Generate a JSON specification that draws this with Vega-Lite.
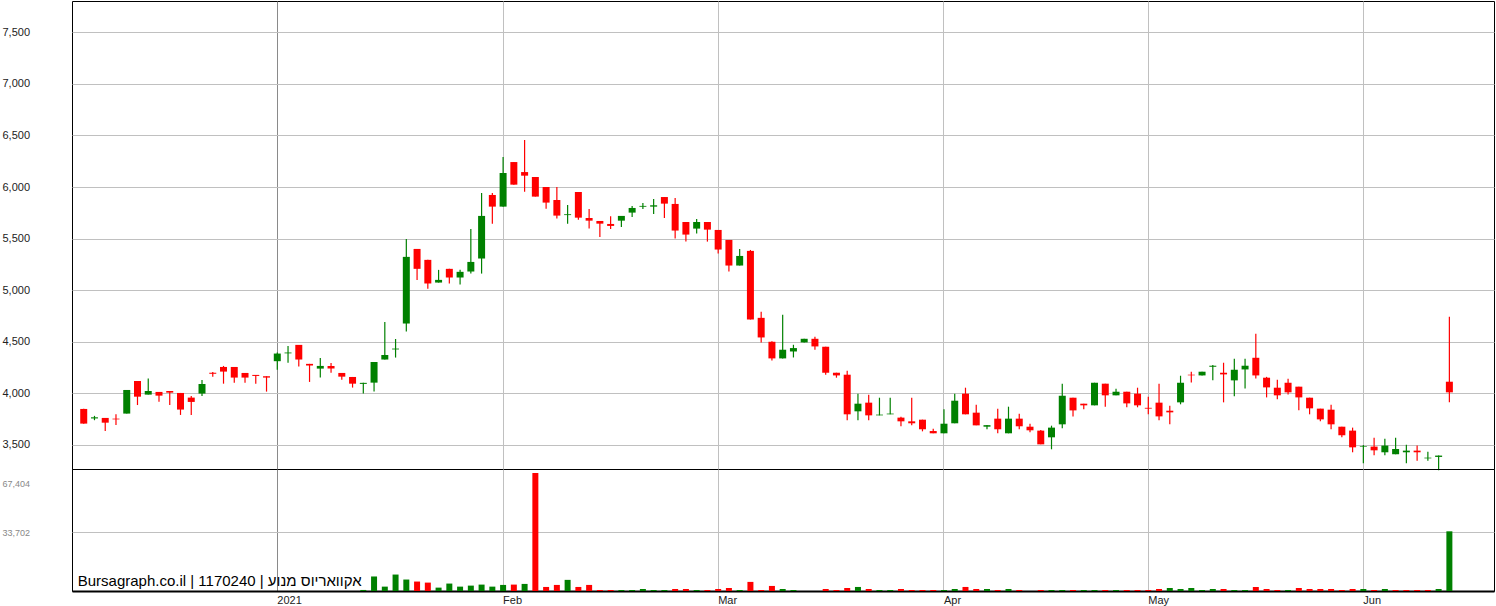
{
"$schema": "https://vega.github.io/schema/vega-lite/v6.json",
"background": "white",
"padding": {"left": 1, "top": 0, "right": 1, "bottom": 0},
"spacing": 0,
"bounds": "flush",
"resolve": {"scale": {"x": "shared"}, "axis": {"x": "independent"}},
"config": {"view": {"stroke": "#000000", "strokeWidth": 1}, "font": "Liberation Sans"},
"data": {"values": [
{"date":"2020-12-08","open":3849,"high":3852,"low":3705,"close":3707},
{"date":"2020-12-09","open":3757,"high":3782,"low":3740,"close":3768},
{"date":"2020-12-10","open":3762,"high":3762,"low":3636,"close":3716},
{"date":"2020-12-13","open":3755,"high":3797,"low":3694,"close":3748},
{"date":"2020-12-14","open":3804,"high":4033,"low":3804,"close":4033},
{"date":"2020-12-15","open":4120,"high":4120,"low":3887,"close":3968},
{"date":"2020-12-16","open":3988,"high":4143,"low":3988,"close":4023},
{"date":"2020-12-17","open":4014,"high":4014,"low":3920,"close":3978},
{"date":"2020-12-20","open":4023,"high":4023,"low":3887,"close":4007},
{"date":"2020-12-21","open":4004,"high":4004,"low":3791,"close":3843},
{"date":"2020-12-22","open":3959,"high":3975,"low":3791,"close":3917},
{"date":"2020-12-23","open":3998,"high":4130,"low":3975,"close":4091},
{"date":"2020-12-24","open":4200,"high":4208,"low":4160,"close":4190},
{"date":"2020-12-27","open":4256,"high":4266,"low":4094,"close":4211},
{"date":"2020-12-28","open":4256,"high":4256,"low":4104,"close":4153},
{"date":"2020-12-29","open":4198,"high":4198,"low":4104,"close":4153},
{"date":"2020-12-30","open":4179,"high":4179,"low":4094,"close":4169},
{"date":"2020-12-31","open":4166,"high":4166,"low":4017,"close":4153},
{"date":"2021-01-03","open":4312,"high":4395,"low":4230,"close":4386},
{"date":"2021-01-04","open":4388,"high":4460,"low":4298,"close":4396},
{"date":"2021-01-05","open":4470,"high":4470,"low":4260,"close":4328},
{"date":"2021-01-06","open":4286,"high":4286,"low":4111,"close":4270},
{"date":"2021-01-07","open":4240,"high":4344,"low":4153,"close":4266},
{"date":"2021-01-10","open":4266,"high":4295,"low":4201,"close":4240},
{"date":"2021-01-11","open":4198,"high":4198,"low":4133,"close":4162},
{"date":"2021-01-12","open":4159,"high":4159,"low":4056,"close":4094},
{"date":"2021-01-13","open":4092,"high":4102,"low":3998,"close":4102,"volume":600},
{"date":"2021-01-14","open":4104,"high":4304,"low":4017,"close":4304,"volume":8300},
{"date":"2021-01-17","open":4328,"high":4692,"low":4328,"close":4372,"volume":2500},
{"date":"2021-01-18","open":4426,"high":4527,"low":4347,"close":4434,"volume":9400},
{"date":"2021-01-19","open":4677,"high":5497,"low":4600,"close":5323,"volume":6550},
{"date":"2021-01-20","open":5400,"high":5400,"low":5100,"close":5207,"volume":5400},
{"date":"2021-01-21","open":5294,"high":5294,"low":5013,"close":5065,"volume":4800},
{"date":"2021-01-24","open":5074,"high":5197,"low":5074,"close":5100,"volume":1930},
{"date":"2021-01-25","open":5207,"high":5207,"low":5065,"close":5123,"volume":4250},
{"date":"2021-01-26","open":5123,"high":5197,"low":5055,"close":5178,"volume":2500},
{"date":"2021-01-27","open":5181,"high":5594,"low":5161,"close":5274,"volume":3080},
{"date":"2021-01-28","open":5307,"high":5942,"low":5161,"close":5720,"volume":3660},
{"date":"2021-01-31","open":5923,"high":5942,"low":5645,"close":5810,"volume":2500},
{"date":"2021-02-01","open":5810,"high":6290,"low":5810,"close":6136,"volume":3470},
{"date":"2021-02-02","open":6242,"high":6242,"low":6023,"close":6023,"volume":3660},
{"date":"2021-02-03","open":6145,"high":6455,"low":5955,"close":6110,"volume":4050},
{"date":"2021-02-04","open":6097,"high":6097,"low":5907,"close":5907,"volume":67404},
{"date":"2021-02-07","open":6000,"high":6000,"low":5790,"close":5849,"volume":2310},
{"date":"2021-02-08","open":5874,"high":6000,"low":5694,"close":5723,"volume":3470},
{"date":"2021-02-09","open":5728,"high":5826,"low":5645,"close":5736,"volume":6360},
{"date":"2021-02-10","open":5952,"high":5952,"low":5684,"close":5703,"volume":2310},
{"date":"2021-02-11","open":5700,"high":5787,"low":5597,"close":5674,"volume":3470},
{"date":"2021-02-14","open":5671,"high":5671,"low":5516,"close":5645,"volume":580},
{"date":"2021-02-15","open":5642,"high":5716,"low":5594,"close":5623,"volume":580},
{"date":"2021-02-16","open":5674,"high":5720,"low":5613,"close":5720,"volume":580},
{"date":"2021-02-17","open":5752,"high":5816,"low":5710,"close":5797,"volume":580},
{"date":"2021-02-18","open":5809,"high":5845,"low":5787,"close":5817,"volume":1160},
{"date":"2021-02-21","open":5810,"high":5884,"low":5739,"close":5823,"volume":580},
{"date":"2021-02-22","open":5903,"high":5903,"low":5700,"close":5839,"volume":580},
{"date":"2021-02-23","open":5836,"high":5894,"low":5500,"close":5578,"volume":1160},
{"date":"2021-02-24","open":5661,"high":5661,"low":5471,"close":5539,"volume":1160},
{"date":"2021-02-25","open":5597,"high":5690,"low":5549,"close":5661,"volume":580},
{"date":"2021-02-28","open":5661,"high":5661,"low":5471,"close":5587,"volume":580},
{"date":"2021-03-01","open":5584,"high":5584,"low":5355,"close":5394,"volume":1160},
{"date":"2021-03-02","open":5487,"high":5487,"low":5181,"close":5239,"volume":1730},
{"date":"2021-03-03","open":5239,"high":5400,"low":5239,"close":5332,"volume":580},
{"date":"2021-03-04","open":5381,"high":5390,"low":4716,"close":4716,"volume":5200},
{"date":"2021-03-07","open":4732,"high":4790,"low":4494,"close":4542,"volume":580},
{"date":"2021-03-08","open":4500,"high":4505,"low":4319,"close":4339,"volume":2890},
{"date":"2021-03-09","open":4339,"high":4761,"low":4339,"close":4423,"volume":1160},
{"date":"2021-03-10","open":4406,"high":4471,"low":4348,"close":4439,"volume":580},
{"date":"2021-03-11","open":4494,"high":4529,"low":4494,"close":4529,"volume":0},
{"date":"2021-03-14","open":4529,"high":4548,"low":4423,"close":4455,"volume":0},
{"date":"2021-03-15","open":4452,"high":4452,"low":4181,"close":4200,"volume":1160},
{"date":"2021-03-16","open":4200,"high":4200,"low":4152,"close":4174,"volume":580},
{"date":"2021-03-17","open":4181,"high":4219,"low":3739,"close":3797,"volume":1730},
{"date":"2021-03-18","open":3826,"high":3997,"low":3739,"close":3900,"volume":2310},
{"date":"2021-03-21","open":3910,"high":3987,"low":3739,"close":3787,"volume":1160},
{"date":"2021-03-22","open":3787,"high":3958,"low":3787,"close":3794,"volume":580},
{"date":"2021-03-24","open":3797,"high":3958,"low":3797,"close":3804,"volume":580},
{"date":"2021-03-25","open":3765,"high":3774,"low":3681,"close":3729,"volume":1160},
{"date":"2021-03-29","open":3729,"high":3958,"low":3690,"close":3710,"volume":580},
{"date":"2021-03-30","open":3745,"high":3745,"low":3632,"close":3652,"volume":580},
{"date":"2021-03-31","open":3635,"high":3658,"low":3613,"close":3613,"volume":580},
{"date":"2021-04-01","open":3613,"high":3845,"low":3613,"close":3706,"volume":580},
{"date":"2021-04-04","open":3710,"high":3997,"low":3710,"close":3929,"volume":1160},
{"date":"2021-04-05","open":3997,"high":4055,"low":3797,"close":3797,"volume":2310},
{"date":"2021-04-06","open":3813,"high":3890,"low":3690,"close":3690,"volume":1160},
{"date":"2021-04-07","open":3677,"high":3694,"low":3652,"close":3692,"volume":1160},
{"date":"2021-04-08","open":3755,"high":3852,"low":3613,"close":3652,"volume":580},
{"date":"2021-04-11","open":3613,"high":3871,"low":3613,"close":3755,"volume":1160},
{"date":"2021-04-12","open":3755,"high":3803,"low":3652,"close":3681,"volume":580},
{"date":"2021-04-13","open":3677,"high":3706,"low":3623,"close":3642,"volume":0},
{"date":"2021-04-18","open":3639,"high":3645,"low":3506,"close":3506,"volume":580},
{"date":"2021-04-19","open":3574,"high":3687,"low":3458,"close":3668,"volume":580},
{"date":"2021-04-20","open":3700,"high":4094,"low":3661,"close":3977,"volume":580},
{"date":"2021-04-21","open":3958,"high":3958,"low":3777,"close":3835,"volume":580},
{"date":"2021-04-22","open":3900,"high":3900,"low":3845,"close":3884,"volume":580},
{"date":"2021-04-25","open":3884,"high":4103,"low":3884,"close":4103,"volume":580},
{"date":"2021-04-26","open":4094,"high":4094,"low":3871,"close":3981,"volume":580},
{"date":"2021-04-27","open":3981,"high":4045,"low":3981,"close":4016,"volume":580},
{"date":"2021-04-28","open":4016,"high":4016,"low":3865,"close":3903,"volume":580},
{"date":"2021-04-29","open":3997,"high":4055,"low":3865,"close":3884,"volume":580},
{"date":"2021-05-02","open":3860,"high":3968,"low":3797,"close":3852,"volume":580},
{"date":"2021-05-03","open":3910,"high":4094,"low":3739,"close":3777,"volume":1160},
{"date":"2021-05-04","open":3832,"high":3881,"low":3700,"close":3816,"volume":1730},
{"date":"2021-05-05","open":3913,"high":4171,"low":3894,"close":4103,"volume":1160},
{"date":"2021-05-06","open":4181,"high":4210,"low":4106,"close":4175,"volume":1730},
{"date":"2021-05-09","open":4174,"high":4210,"low":4174,"close":4210,"volume":580},
{"date":"2021-05-10","open":4258,"high":4274,"low":4126,"close":4268,"volume":1160},
{"date":"2021-05-11","open":4200,"high":4297,"low":3913,"close":4184,"volume":1150},
{"date":"2021-05-12","open":4126,"high":4336,"low":3971,"close":4229,"volume":580},
{"date":"2021-05-13","open":4232,"high":4336,"low":4048,"close":4268,"volume":580},
{"date":"2021-05-18","open":4345,"high":4577,"low":4145,"close":4174,"volume":2300},
{"date":"2021-05-19","open":4152,"high":4160,"low":3961,"close":4058,"volume":1150},
{"date":"2021-05-20","open":4055,"high":4132,"low":3942,"close":3981,"volume":580},
{"date":"2021-05-23","open":4103,"high":4142,"low":3990,"close":4010,"volume":580},
{"date":"2021-05-24","open":4065,"high":4065,"low":3836,"close":3961,"volume":1730},
{"date":"2021-05-25","open":3958,"high":3958,"low":3797,"close":3855,"volume":1150},
{"date":"2021-05-26","open":3852,"high":3852,"low":3729,"close":3748,"volume":1150},
{"date":"2021-05-27","open":3842,"high":3890,"low":3652,"close":3700,"volume":1150},
{"date":"2021-05-30","open":3677,"high":3677,"low":3574,"close":3594,"volume":580},
{"date":"2021-05-31","open":3639,"high":3668,"low":3429,"close":3477,"volume":1150},
{"date":"2021-06-01","open":3484,"high":3500,"low":3323,"close":3490,"volume":1150},
{"date":"2021-06-02","open":3484,"high":3571,"low":3400,"close":3448,"volume":580},
{"date":"2021-06-03","open":3429,"high":3561,"low":3400,"close":3494,"volume":1150},
{"date":"2021-06-06","open":3410,"high":3571,"low":3410,"close":3461,"volume":580},
{"date":"2021-06-07","open":3429,"high":3503,"low":3323,"close":3445,"volume":580},
{"date":"2021-06-08","open":3445,"high":3494,"low":3348,"close":3429,"volume":580},
{"date":"2021-06-09","open":3370,"high":3435,"low":3348,"close":3377,"volume":580},
{"date":"2021-06-10","open":3384,"high":3397,"low":3255,"close":3397,"volume":1150},
{"date":"2021-06-13","open":4113,"high":4742,"low":3913,"close":4010,"volume":34100}
]},
"vconcat": [
{
 "width": 1422,
 "height": 468,
 "encoding": {
  "x": {"field": "date", "type": "ordinal",
   "scale": {"type": "band", "domain": {"unionWith": ["2021-06-14", "2021-06-15", "2021-06-16"]}, "paddingInner": 0, "paddingOuter": 0.62, "align": 0.476},
   "axis": {"title": null, "labels": false, "ticks": false, "tickSize": 0, "domain": false, "grid": true, "bandPosition": 0.5,
    "values": ["2021-01-03","2021-02-01","2021-03-01","2021-04-01","2021-05-02","2021-06-01"],
    "gridColor": {"condition": {"test": "datum.value == '2021-01-03'", "value": "#8a8a8a"}, "value": "#c0c0c0"}, "gridWidth": 1}}
 },
 "layer": [
  {"mark": {"type": "rule", "strokeWidth": 1.2},
   "encoding": {
    "y": {"field": "low", "type": "quantitative",
     "scale": {"domain": [3267, 7803], "nice": false, "zero": false},
     "axis": {"title": null, "values": [3500,4000,4500,5000,5500,6000,6500,7000,7500], "format": ",.0f",
      "labelAlign": "left", "labelPadding": 70, "ticks": false, "tickSize": 0, "domain": false,
      "grid": true, "gridColor": "#c0c0c0", "labelFont": "Liberation Sans", "labelFontSize": 11, "labelColor": "#222222"}},
    "y2": {"field": "high"},
    "color": {"condition": {"test": "datum.close >= datum.open", "value": "#008000"}, "value": "#ff0000"}
   }},
  {"mark": {"type": "bar", "size": 7},
   "encoding": {
    "y": {"field": "open", "type": "quantitative"},
    "y2": {"field": "close"},
    "color": {"condition": {"test": "datum.close >= datum.open", "value": "#008000"}, "value": "#ff0000"}
   }}
 ]
},
{
 "width": 1422,
 "height": 122,
 "encoding": {
  "x": {"field": "date", "type": "ordinal",
   "scale": {"type": "band", "domain": {"unionWith": ["2021-06-14", "2021-06-15", "2021-06-16"]}, "paddingInner": 0, "paddingOuter": 0.62, "align": 0.476},
   "axis": {"title": null, "ticks": false, "tickSize": 0, "domain": true, "domainColor": "#000000", "domainWidth": 2,
    "grid": true, "bandPosition": 0.5, "labelAngle": 0,
    "values": ["2021-01-03","2021-02-01","2021-03-01","2021-04-01","2021-05-02","2021-06-01"],
    "labelExpr": "datum.value == '2021-01-03' ? '2021' : utcFormat(toDate(datum.value), '%b')",
    "labelAlign": "left", "labelBaseline": "top", "labelPadding": 3, "labelOverlap": false,
    "labelFont": "Liberation Sans", "labelFontSize": 11, "labelColor": "#222222",
    "gridColor": {"condition": {"test": "datum.value == '2021-01-03'", "value": "#8a8a8a"}, "value": "#c0c0c0"}, "gridWidth": 1}}
 },
 "layer": [
  {"transform": [{"window": [{"op": "lag", "field": "close", "as": "prevClose"}], "sort": [{"field": "date", "order": "ascending"}]}],
   "mark": {"type": "bar", "size": 6},
   "encoding": {
    "y": {"field": "volume", "type": "quantitative",
     "scale": {"domain": [0, 69700], "nice": false, "zero": true},
     "axis": {"title": null, "values": [33702, 67404], "format": ",.0f",
      "labelAlign": "left", "labelPadding": 70, "ticks": false, "tickSize": 0, "domain": false,
      "grid": true, "gridColor": "#c0c0c0",
      "gridOpacity": {"condition": {"test": "datum.value > 50000", "value": 0}, "value": 1},
      "labelOffset": {"condition": {"test": "datum.value > 50000", "value": 10}, "value": 0},
      "labelFont": "Liberation Sans", "labelFontSize": 9, "labelColor": "#888888"}},
    "color": {"condition": {"test": "datum.close >= datum.prevClose", "value": "#008000"}, "value": "#ff0000"}
   }},
  {"data": {"values": [{"label": "Bursagraph.co.il | 1170240 | אקוואריוס מנוע"}]},
   "mark": {"type": "text", "align": "left", "baseline": "alphabetic", "dx": -6, "dy": -5,
    "font": "Liberation Sans", "fontSize": 15, "color": "#000000"},
   "encoding": {
    "x": {"datum": "2020-12-08", "type": "ordinal"},
    "y": {"datum": 0, "type": "quantitative"},
    "text": {"field": "label", "type": "nominal"}
   }}
 ]
}
]
}
